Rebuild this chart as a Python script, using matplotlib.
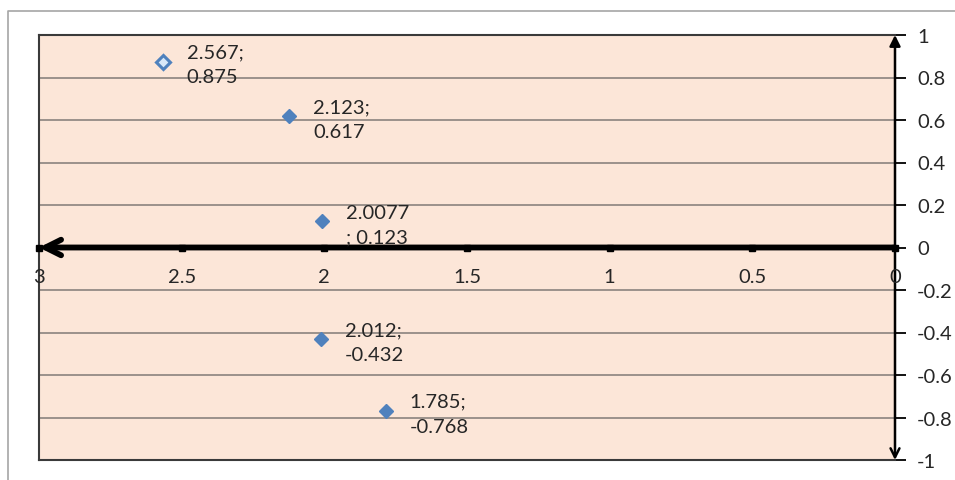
import matplotlib
matplotlib.use("Agg")
import matplotlib.pyplot as plt
from matplotlib.lines import Line2D

plt.rcParams['font.family'] = ['Lato', 'DejaVu Sans']

# data
x_vals = [2.567, 2.123, 2.0077, 2.012, 1.785]
y_vals = [0.875, 0.617, 0.123, -0.432, -0.768]
point_labels = ["2.567;\n0.875", "2.123;\n0.617", "2.0077\n; 0.123", "2.012;\n-0.432", "1.785;\n-0.768"]
x_ticks = [3, 2.5, 2, 1.5, 1, 0.5, 0]
x_tick_labels = ["3", "2.5", "2", "1.5", "1", "0.5", "0"]
y_ticks = [-1, -0.8, -0.6, -0.4, -0.2, 0, 0.2, 0.4, 0.6, 0.8, 1]
y_tick_labels = ["-1", "-0.8", "-0.6", "-0.4", "-0.2", "0", "0.2", "0.4", "0.6", "0.8", "1"]

FS = 14.5
TXT = '#262626'

W, H = 955, 481
fig = plt.figure(figsize=(W / 100, H / 100), dpi=100)
fig.patch.set_facecolor('white')

# outer chart frame
fig.add_artist(Line2D([8 / W, 8 / W, 1.0], [0.0, 1 - 12 / H, 1 - 12 / H],
                      transform=fig.transFigure, color='#a6a6a6', lw=1.2))

left, right, top, bottom = 39, 895, 36, 461
ax = fig.add_axes([left / W, 1 - bottom / H, (right - left) / W, (bottom - top) / H])
ax.set_facecolor('#fce6d8')
ax.set_xlim(3, 0)
ax.set_ylim(-1, 1)

# gridlines
for yv in y_ticks:
    if yv not in (0, 1, -1):
        ax.axhline(yv, color='#8a837e', lw=1.2, zorder=1)

# plot border (top, left, bottom)
ax.spines['top'].set_color('#3a3a3a')
ax.spines['left'].set_color('#3a3a3a')
ax.spines['top'].set_linewidth(1.5)
ax.spines['left'].set_linewidth(1.5)
ax.spines['right'].set_visible(False)
ax.spines['bottom'].set_visible(False)
ax.plot([3, 0], [-1, -1], color='#3a3a3a', lw=1.5, clip_on=False, zorder=2)

# x axis at y = 0 with arrow towards left
ax.annotate('', xy=(3.0, 0), xytext=(0, 0),
            arrowprops=dict(arrowstyle='->', lw=4.2, color='black',
                            mutation_scale=28, shrinkA=0, shrinkB=0),
            zorder=4)
# y axis at x = 0 with arrows at both ends
ax.annotate('', xy=(0, 1.0), xytext=(0, 0),
            arrowprops=dict(arrowstyle='-|>', lw=1.8, color='black',
                            mutation_scale=16, shrinkA=0, shrinkB=0),
            zorder=4)
ax.annotate('', xy=(0, -1.0), xytext=(0, 0),
            arrowprops=dict(arrowstyle='->', lw=1.8, color='black',
                            mutation_scale=16, shrinkA=0, shrinkB=0),
            zorder=4)

# x ticks on the zero line
for xv, lab in zip(x_ticks, x_tick_labels):
    ax.plot([xv], [0], marker='s', ms=5, color='black', zorder=5, clip_on=False)
    ax.annotate(lab, xy=(xv, 0), xytext=(0, -29), textcoords='offset pixels',
                ha='center', va='center', fontsize=FS, color=TXT,
                annotation_clip=False, zorder=6)
ax.set_xticks([])

# y ticks on the right
ax.yaxis.tick_right()
ax.set_yticks(y_ticks)
ax.set_yticklabels(y_tick_labels)
ax.tick_params(axis='y', direction='out', length=8, width=1.3, color='black',
               pad=8, labelsize=FS, labelcolor=TXT)

# points
for i, (xv, yv) in enumerate(zip(x_vals, y_vals)):
    if i == 0:
        ax.plot(xv, yv, marker='D', ms=7.5, mfc='#d8e8f8', mec='#4f81bd', mew=2.2,
                linestyle='none', zorder=7)
    else:
        ax.plot(xv, yv, marker='D', ms=7.5, color='#4f81bd', linestyle='none', zorder=7)

for xv, yv, lab in zip(x_vals, y_vals, point_labels):
    ax.annotate(lab, xy=(xv, yv), xytext=(24, -3), textcoords='offset pixels',
                ha='left', va='center', fontsize=FS, color=TXT,
                linespacing=1.55, zorder=8)

fig.savefig('out.png', dpi=100)
